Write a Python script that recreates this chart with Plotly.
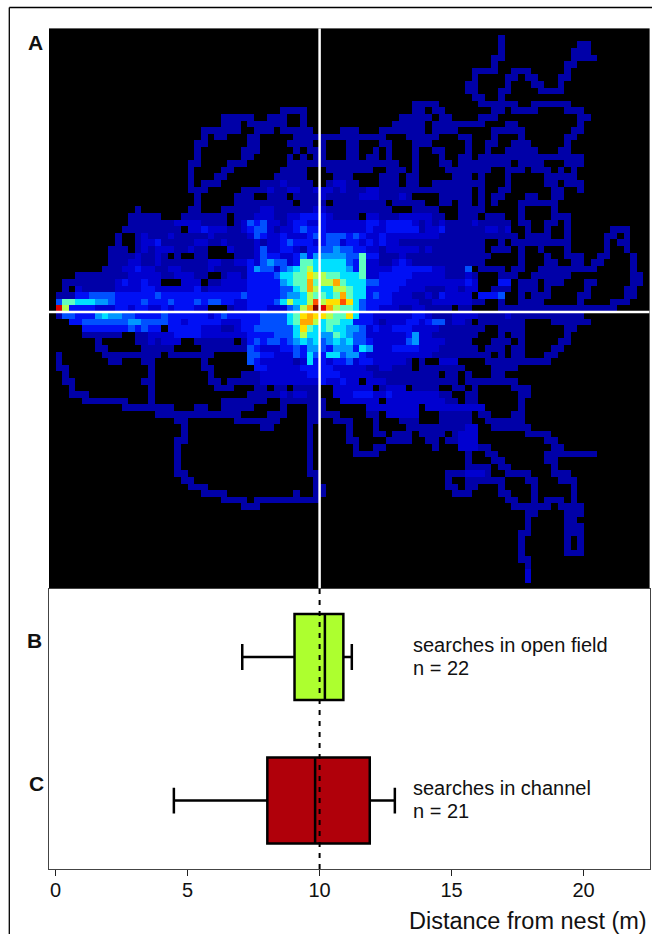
import plotly.graph_objects as go

# Search-density grid: one string per row (top to bottom),
# split into blocks of 10 cells ("_" = empty block), hex digit = density level, "." = none.
DENSITY_ROWS = [
"",
"_ _ _ _ _ _ ........1.",
"_ _ _ _ _ _ ........1. _ 11",
"_ _ _ _ _ _ ........1. .........1 11",
"_ _ _ _ _ _ .......11. .........1 111",
"_ _ _ _ _ _ .......1 ........11",
"_ _ _ _ _ _ ....1111 111.....1",
"_ _ _ _ _ _ ....1....1 1.11...11",
"_ _ _ _ _ _ ...11....1 ...11..1",
"_ _ _ _ _ _ ...11...11 ....1111",
"_ _ _ _ _ _ ....11..1",
"_ _ _ _ _ .....1111 .....11111 1..111111",
"_ _ _ .....1111 _ .....11.11 .......11 1111....11 1",
"_ _ ......1111 1..111..1 _ ...11111.1 1....111 _ 11",
"_ _ ......111 111111..1 _ ..11111.11 111111...1 1 1",
"_ _ ...111111 .111.11111 ....111 1111111.11 11.....111 11.......1 1",
"_ _ ...1.11 11.....111 1111111111 1...11111 ..11...1 .1......11",
"_ _ ..11 11....1111 .1...11 11...111 ...1..11 111.....1",
"_ _ ..1......1 11.....1.1 11...11..1 .1...1..11 ...1..1..1 1111...11",
"_ _ ..1......1 1.....1.1 11...11.11 .1...1...1 ..11.11111 1111111111 1",
"_ _ .11....111 ......1111 1111111111 111..1...1 1.11111111 .1111...11 1",
"_ _ .1....11 .....1111 ..1111111 .111.1 1111111..1 11.111.1.1",
"_ _ .1...11 ....11111 ...111 111.11 .111.1...1 .....11111",
"_ _ .1.111 ..11121111 ..12211 111.11..11 111111...1 .....11.11 1",
"_ _ .111.....1 1112112211 2221211122 1111111111 1111.1..11 ......11 1",
"_ _ ..1.....11 1..111.111 1211111222 11121....1 1111.1.11 ..11..11",
"_ _ ..1.....11 1111111.11 11.1111111 1.11111..1 1.11.1.1 .111111",
"_ ...1 .11...1111 1122111111 2211111111 11...1111 ..1111 .1....1",
"_ ..11111 1111111.11 1222112233 3321111.22 1112222211 ..111.111 .1....111",
"_ ..11111112 2221111.12 4342212332 2322222233 2333321212 1111211111 .11..11.1",
"_ .111111111 .223222112 3442122343 3322222232 2333331223 1111112212 ..1..1..1 .....111",
"_ 1..1211121 1111211111 2432232223 4344434322 3222222221 1111111111 1.1111..1 ....11.1",
"_ 1..1223111 1122112111 1212234333 2344233232 3221111111 111111..1 111111111 ....1.11",
".........1 11.1212221 1211...211 1242233213 3445443322 1222221211 111111.111 .1..1...1 ....1..1",
".........1 11121121.1 ..11....11 1243322353 5555544733 1112111111 1111111 .1...1..11 1..11...1",
".........1 1122112111 1111221122 3245442377 6666643722 1123211111 111111 .1...11..1 1.11....1",
"........11 1223221122 1111211111 3544245678 6666653722 2233333322 1114.1111 11..111111 111.....1",
"....111111 1122222112 2211..1221 3333466779 8877666722 3333322222 11121...11 1..111111 ........11",
"..11111111 2322322... 222.112222 333335677a 788a766644 3333222222 22232...33 .111.111 .11.....11",
"..1.211111 2222332222 2231222222 333334467a 8668876633 3332222111 22122..111 .111.1 .1.....11",
".111334444 3333334333 3333333334 3333345568 7767a76634 3322211213 2222.3334. .1.111 11.....11",
".477666554 3333433343 3343443322 3333468668 b899b96433 3322221122 222211..1. .1111 1....111",
".c83333222 3323322323 3322...122 333222458a dca8776433 2221122111 1.11....11 1111111111 111111",
".144333565 5443333433 3333234333 334444679a 9987796332 2222233211 1222211112 1111111111 1",
"...3344444 4455444433 2333332223 33444467aa 8677663332 1222332344 1221.11111 11....1111 11",
".....33333 3343433.33 3332221123 3444444697 6676655423 2233322221 111111..11 11......11",
".....11111 1..1122223 3332222222 3333444686 6557654422 2222352211 11111...1 11......1",
".......1 ...1121222 ..111111.1 3434434565 6456564432 2222452222 1111...111 .1.....11",
".......11 ....11111 ...1111111 4322233435 5435553652 2233332221 11111.111 11....11",
".1......11 1111111.11 11111 4433222436 4366455322 2222222211 1111111.1 11...11",
".1.......1 1...11 ...1 4322222126 3323342332 22221.1..2 22....1111 111111",
".11 .....1 ...11 .332222233 3332222211 22111.1111 111....111 1",
"..1 .....1 ....1....1 1122222223 3333222221 111111111 11.1...11",
"..11 ....11 ....11.111 1122222222 2322322.22 2111111111 11.1111111 1",
"...1 .....1 .....111 .11.11.111 1..222222 1222.1111 .11.1 111",
"...111 .....1 _ 1111121221 1..2223332 2322222221 1..11 .11",
".....11111 11...1 ......1111 111..11111 11..222222 .222222222 11.11 .1",
"_ .11111111 ..11..1111 1....1...1 11......22 222222.222 222222 .1",
"_ ......1111 111111111 ...111...1 1111....11 .22222...1 1111.11 11",
"_ .........1 1.......11 11111....1 1..111...1 ...111...1 1111..1111 11",
"_ _ 1 ..11.....1 .....1...1 ....111111 11122..111 111",
"_ _ 1 .........1 .....1...1 1.111.1111 .1222 ..1111",
"_ .........1 1 .........1 .....11 .1111..11 11222 .....11",
"_ .........1 _ .........1 ......1..1 1.......1 ..22211 ......11",
"_ .........1 _ .........1 ......1111 _ ...1..11 .....11111 111",
"_ .........1 _ .........1 _ _ ...1...11 .....11",
"_ .........1 _ .........1 _ _ ...1111.11 ......1",
"_ .........1 1 .........1 1 _ 1112221..1 111...111",
"_ _ 11 _ 1 _ 1..111111 ..11...111",
"_ _ .111 _ 11 _ 11.11...1 ...1.....1",
"_ _ ...1111 .......1 11 _ .111....11 ...1.....1",
"_ _ ......1111 .111111111 1 _ .........1 1..1.111.1",
"_ _ .........1 11 _ _ _ 111111.111 1",
"_ _ _ _ _ _ _ ..11....11 1",
"_ _ _ _ _ _ _ ..1.....11",
"_ _ _ _ _ _ _ ..1.....11 1",
"_ _ _ _ _ _ _ .11.....11 1",
"_ _ _ _ _ _ _ .1......1. 1",
"_ _ _ _ _ _ _ .1......1. 1",
"_ _ _ _ _ _ _ .1......11 1",
"_ _ _ _ _ _ _ .11",
"_ _ _ _ _ _ _ ..1",
"_ _ _ _ _ _ _ ..2",
"_ _ _ _ _ _ _ ..2",
"",
]
CELL_SIZE = 0.25
X_FIRST_EDGE = -0.25
Y_TOP_EDGE = 10.75
N_COLS = 91

NEST_DISTANCE = 10

BOX_NAMES = ["searches in open field", "searches in channel"]
BOX_N = [22, 21]
BOX_LOW = [7.07, 4.48]
BOX_Q1 = [9.05, 8.02]
BOX_MEDIAN = [10.2, 9.83]
BOX_Q3 = [10.9, 11.9]
BOX_HIGH = [11.22, 12.85]
BOX_POS = [1, 0]
BOX_COLORS = ["#ADFF2F", "#B0000A"]
X_TICKS = [0, 5, 10, 15, 20]

W, H = 652, 934
FONT = "Liberation Sans"


def parse_row(row):
    cells = ""
    for block in row.split():
        cells += "." * 10 if block == "_" else block.ljust(10, ".")
    cells = cells.ljust(N_COLS, ".")[:N_COLS]
    return [0 if c == "." else int(c, 16) for c in cells]


z = [parse_row(r) for r in DENSITY_ROWS]
x_centres = [X_FIRST_EDGE + CELL_SIZE * (i + 0.5) for i in range(N_COLS)]
y_centres = [Y_TOP_EDGE - CELL_SIZE * (i + 0.5) for i in range(len(z))]

level_colors = ["#000000", "#0000a8", "#0000d0", "#0010f5", "#0050ff", "#0098ff", "#00e0ff",
                "#60ffc0", "#b4ff50", "#ffe000", "#ffa800", "#ff5000", "#e00000", "#800000"]
colorscale = [[i / 13, c] for i, c in enumerate(level_colors)]


def px_x(p):
    return p / W


def px_y(p):
    return 1 - p / H


fig = go.Figure()
fig.add_trace(go.Heatmap(x=x_centres, y=y_centres, z=z, zmin=0, zmax=13, colorscale=colorscale,
                         showscale=False, hoverinfo="skip", xaxis="x", yaxis="y"))
fig.add_trace(go.Scatter(x=[NEST_DISTANCE] * 2, y=[Y_TOP_EDGE, Y_TOP_EDGE - CELL_SIZE * len(z)],
                         mode="lines", line=dict(color="white", width=2.5), xaxis="x", yaxis="y",
                         showlegend=False))
fig.add_trace(go.Scatter(x=[X_FIRST_EDGE, X_FIRST_EDGE + CELL_SIZE * N_COLS], y=[0, 0],
                         mode="lines", line=dict(color="white", width=2.5), xaxis="x", yaxis="y",
                         showlegend=False))

for i in range(2):
    fig.add_trace(go.Box(
        y=[BOX_POS[i]], orientation="h", q1=[BOX_Q1[i]], median=[BOX_MEDIAN[i]], q3=[BOX_Q3[i]],
        lowerfence=[BOX_LOW[i]], upperfence=[BOX_HIGH[i]], width=0.6, whiskerwidth=0.3,
        fillcolor=BOX_COLORS[i], line=dict(color="black", width=2.5), boxpoints=False,
        xaxis="x2", yaxis="y2", showlegend=False))

Y2_RANGE = [-0.477, 1.474]
fig.add_trace(go.Scatter(x=[NEST_DISTANCE] * 2, y=Y2_RANGE, mode="lines",
                         line=dict(color="black", width=2, dash="5px,6px"),
                         xaxis="x2", yaxis="y2", showlegend=False))

x_range = [X_FIRST_EDGE, X_FIRST_EDGE + CELL_SIZE * N_COLS]
fig.update_layout(
    width=W, height=H, margin=dict(l=0, r=0, t=0, b=0), autosize=False,
    paper_bgcolor="white", plot_bgcolor="white", showlegend=False,
    font=dict(family=FONT, color="black"),
    xaxis=dict(domain=[px_x(49), px_x(649.6)], range=x_range, visible=False),
    yaxis=dict(domain=[px_y(589), px_y(28.2)], range=[Y_TOP_EDGE - CELL_SIZE * len(z), Y_TOP_EDGE], visible=False),
    xaxis2=dict(domain=[px_x(49), px_x(649.6)], range=x_range, anchor="y2", tickmode="array",
                tickvals=X_TICKS, ticks="outside", ticklen=6, tickwidth=1, tickcolor="#222",
                showline=True, linecolor="#444", linewidth=1, mirror=True, showgrid=False, zeroline=False,
                ticklabelstandoff=-3, tickfont=dict(size=20, family=FONT, color="#111")),
    yaxis2=dict(domain=[px_y(869), px_y(589)], range=Y2_RANGE, anchor="x2", showticklabels=False,
                ticks="", showline=True, linecolor="#444", linewidth=1, mirror=True,
                showgrid=False, zeroline=False),
    shapes=[
        dict(type="line", xref="paper", yref="paper", x0=px_x(9.3), x1=px_x(9.3), y0=0, y1=px_y(7.5),
             line=dict(color="black", width=1.3)),
        dict(type="line", xref="paper", yref="paper", x0=px_x(9.3), x1=1, y0=px_y(7.5), y1=px_y(7.5),
             line=dict(color="black", width=1.3)),
    ],
)


def note(px, py, text, size, anchor="left", bold=False):
    fig.add_annotation(xref="paper", yref="paper", x=px_x(px), y=px_y(py), text=f"<b>{text}</b>" if bold else text,
                       showarrow=False, xanchor=anchor, yanchor="middle", align="left",
                       font=dict(size=size, family=FONT, color="#111"))


note(35.7, 42, "A", 21, "center", True)
note(34.6, 640, "B", 21, "center", True)
note(36, 783, "C", 21, "center", True)
for i, ty in enumerate([645, 788]):
    note(411, ty, BOX_NAMES[i], 20)
    note(411, ty + 23, f"n = {BOX_N[i]}", 20)
note(649, 920.5, "Distance from nest (m)", 23.5, "right")

fig.write_html("out.html", config={"displayModeBar": False},
               post_script="document.body.style.margin='0';")
